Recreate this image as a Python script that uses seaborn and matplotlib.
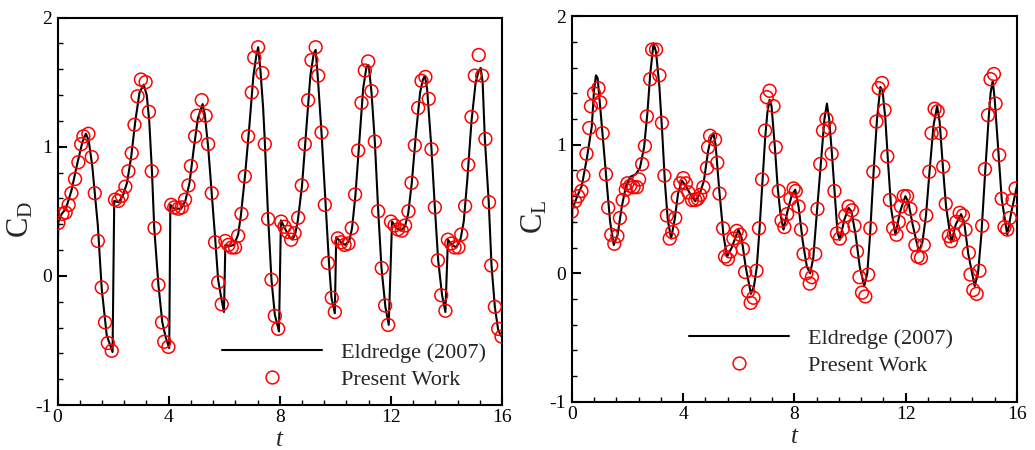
import matplotlib
matplotlib.use("Agg")
import matplotlib.pyplot as plt
from matplotlib.lines import Line2D
from matplotlib.ticker import MultipleLocator
import seaborn as sns

# Eldredge (2007) reference curves
cd_ref_t = [0.00, 0.03, 0.15, 0.30, 0.50, 0.70, 0.90, 1.02, 1.12, 1.25, 1.35, 1.45, 1.59, 1.77, 1.98,
            2.04, 2.20, 2.35, 2.50, 2.65, 2.80, 2.95, 3.10, 3.21, 3.30, 3.40, 3.48, 3.63, 3.77, 3.90, 4.02,
            4.06, 4.20, 4.45, 4.60, 4.75, 4.90, 5.05, 5.22, 5.30, 5.42, 5.55, 5.67, 5.78, 5.90, 5.99,
            6.04, 6.20, 6.35, 6.50, 6.60, 6.75, 6.90, 7.05, 7.15, 7.22, 7.30, 7.40, 7.46, 7.58, 7.70, 7.82, 7.97,
            8.04, 8.20, 8.35, 8.45, 8.55, 8.65, 8.80, 8.95, 9.10, 9.22, 9.29, 9.38, 9.50, 9.65, 9.77, 9.86, 9.98,
            10.03, 10.20, 10.35, 10.50, 10.60, 10.72, 10.85, 11.00, 11.12, 11.20, 11.30, 11.42, 11.54, 11.66, 11.80, 11.92,
            12.04, 12.20, 12.35, 12.50, 12.62, 12.75, 12.90, 13.05, 13.15, 13.22, 13.30, 13.46, 13.58, 13.70, 13.84, 13.96,
            14.05, 14.20, 14.35, 14.50, 14.62, 14.75, 14.90, 15.05, 15.15, 15.23, 15.30, 15.38, 15.52, 15.62, 15.74, 15.86, 15.98]
cd_ref = [0.13, 0.42, 0.48, 0.52, 0.66, 0.86, 1.04, 1.10, 1.05, 0.85, 0.62, 0.39, -0.10, -0.46, -0.59,
          0.58, 0.57, 0.62, 0.72, 0.92, 1.20, 1.42, 1.48, 1.40, 1.20, 0.80, 0.37, -0.07, -0.36, -0.48, -0.56,
          0.55, 0.52, 0.52, 0.58, 0.72, 0.98, 1.22, 1.33, 1.25, 1.00, 0.64, 0.30, -0.03, -0.18, -0.28,
          0.24, 0.23, 0.24, 0.32, 0.47, 0.78, 1.15, 1.55, 1.70, 1.77, 1.60, 1.30, 1.04, 0.45, -0.03, -0.30, -0.43,
          0.43, 0.36, 0.30, 0.28, 0.32, 0.43, 0.70, 1.12, 1.55, 1.72, 1.75, 1.50, 1.11, 0.55, 0.10, -0.17, -0.29,
          0.30, 0.26, 0.24, 0.27, 0.37, 0.62, 1.00, 1.45, 1.62, 1.63, 1.42, 1.04, 0.51, 0.06, -0.24, -0.38,
          0.42, 0.37, 0.35, 0.38, 0.48, 0.72, 1.10, 1.42, 1.52, 1.55, 1.45, 0.98, 0.53, 0.12, -0.15, -0.28,
          0.28, 0.24, 0.22, 0.28, 0.42, 0.75, 1.20, 1.50, 1.58, 1.61, 1.50, 1.06, 0.57, 0.08, -0.24, -0.42, -0.47]

cl_ref_t = [0.00, 0.02, 0.20, 0.36, 0.54, 0.72, 0.80, 0.87, 0.93, 1.02, 1.12, 1.25, 1.38, 1.51,
            1.65, 1.80, 1.95, 2.10, 2.30, 2.45, 2.60, 2.72, 2.82, 2.94, 3.03, 3.15, 3.25, 3.35, 3.45, 3.57,
            3.70, 3.82, 3.96, 4.10, 4.25, 4.44, 4.60, 4.75, 4.90, 5.00, 5.09, 5.17, 5.30, 5.45, 5.58,
            5.75, 5.99, 6.10, 6.25, 6.44, 6.55, 6.65, 6.75, 6.85, 6.95, 7.03, 7.11, 7.18, 7.30, 7.40, 7.50, 7.61,
            7.75, 7.91, 8.03, 8.15, 8.30, 8.45, 8.57, 8.68, 8.80, 8.95, 9.08, 9.17, 9.25, 9.35, 9.45, 9.55, 9.63,
            9.80, 9.95, 10.05, 10.20, 10.35, 10.51, 10.62, 10.72, 10.85, 10.97, 11.09, 11.17, 11.27, 11.37, 11.48, 11.63,
            11.80, 11.99, 12.10, 12.25, 12.47, 12.60, 12.73, 12.86, 13.00, 13.13, 13.22, 13.33, 13.45, 13.64,
            13.80, 13.99, 14.10, 14.25, 14.48, 14.60, 14.72, 14.86, 14.98, 15.05, 15.13, 15.20, 15.33, 15.45, 15.65,
            15.80, 16.00]
cl_ref = [0.16, 0.50, 0.60, 0.68, 0.89, 1.14, 1.42, 1.54, 1.52, 1.30, 1.05, 0.72, 0.40, 0.22,
          0.30, 0.52, 0.68, 0.75, 0.77, 0.82, 0.98, 1.25, 1.55, 1.79, 1.72, 1.45, 1.10, 0.70, 0.42, 0.27,
          0.42, 0.62, 0.72, 0.68, 0.62, 0.56, 0.62, 0.72, 0.95, 1.05, 1.09, 1.00, 0.65, 0.30, 0.13,
          0.20, 0.34, 0.28, 0.05, -0.16, -0.10, 0.05, 0.35, 0.70, 1.05, 1.25, 1.35, 1.30, 0.98, 0.67, 0.46, 0.34,
          0.48, 0.61, 0.65, 0.52, 0.25, 0.05, 0.00, 0.12, 0.45, 0.85, 1.20, 1.32, 1.20, 0.93, 0.62, 0.32, 0.26,
          0.42, 0.51, 0.48, 0.30, 0.05, -0.10, 0.00, 0.30, 0.80, 1.20, 1.45, 1.42, 1.20, 0.85, 0.50, 0.30,
          0.48, 0.60, 0.55, 0.38, 0.17, 0.24, 0.45, 0.80, 1.15, 1.30, 1.18, 0.85, 0.52, 0.24,
          0.38, 0.46, 0.40, 0.15, -0.10, 0.00, 0.30, 0.80, 1.20, 1.40, 1.50, 1.35, 0.95, 0.58, 0.30,
          0.48, 0.68]

# Present work samples
cd_pts_t = [0.03, 0.17, 0.29, 0.40, 0.50, 0.63, 0.75, 0.85, 0.93, 1.11, 1.23, 1.34, 1.45, 1.59, 1.71, 1.81, 1.95,
            2.07, 2.19, 2.31, 2.44, 2.55, 2.67, 2.77, 2.88, 3.00, 3.17, 3.29, 3.39, 3.49, 3.63, 3.76, 3.84, 3.99,
            4.09, 4.20, 4.35, 4.47, 4.59, 4.71, 4.80, 4.95, 5.03, 5.19, 5.33, 5.42, 5.55, 5.67, 5.78, 5.91,
            6.04, 6.15, 6.27, 6.39, 6.50, 6.62, 6.74, 6.86, 6.99, 7.08, 7.22, 7.37, 7.46, 7.58, 7.70, 7.82, 7.94,
            8.05, 8.17, 8.29, 8.41, 8.53, 8.66, 8.79, 8.90, 9.02, 9.14, 9.29, 9.38, 9.50, 9.62, 9.73, 9.87, 9.98,
            10.09, 10.21, 10.33, 10.47, 10.59, 10.71, 10.82, 10.94, 11.06, 11.18, 11.30, 11.42, 11.54, 11.67, 11.79, 11.90,
            12.00, 12.13, 12.25, 12.39, 12.51, 12.63, 12.74, 12.86, 12.98, 13.10, 13.24, 13.36, 13.46, 13.58, 13.69, 13.81, 13.96,
            14.05, 14.17, 14.29, 14.43, 14.53, 14.67, 14.78, 14.90, 15.02, 15.16, 15.28, 15.40, 15.53, 15.61, 15.74, 15.86, 15.98]
cd_pts = [0.41, 0.48, 0.49, 0.55, 0.64, 0.75, 0.88, 1.02, 1.08, 1.10, 0.92, 0.64, 0.27, -0.09, -0.36, -0.52, -0.58,
          0.59, 0.58, 0.62, 0.69, 0.81, 0.95, 1.17, 1.39, 1.52, 1.50, 1.27, 0.81, 0.37, -0.07, -0.36, -0.51, -0.55,
          0.55, 0.53, 0.52, 0.53, 0.59, 0.70, 0.85, 1.08, 1.24, 1.36, 1.24, 1.02, 0.64, 0.26, -0.05, -0.22,
          0.27, 0.24, 0.22, 0.22, 0.31, 0.48, 0.77, 1.08, 1.42, 1.69, 1.77, 1.57, 1.02, 0.44, -0.03, -0.31, -0.41,
          0.42, 0.38, 0.34, 0.28, 0.33, 0.45, 0.70, 1.02, 1.36, 1.67, 1.77, 1.55, 1.11, 0.55, 0.10, -0.17, -0.28,
          0.29, 0.26, 0.24, 0.25, 0.37, 0.63, 0.97, 1.34, 1.59, 1.66, 1.43, 1.04, 0.50, 0.06, -0.23, -0.38,
          0.42, 0.39, 0.36, 0.35, 0.39, 0.50, 0.72, 1.01, 1.30, 1.51, 1.54, 1.37, 0.98, 0.53, 0.12, -0.15, -0.27,
          0.28, 0.25, 0.22, 0.22, 0.32, 0.54, 0.86, 1.23, 1.55, 1.71, 1.55, 1.06, 0.57, 0.08, -0.24, -0.41, -0.47]

cl_pts_t = [0.00, 0.12, 0.23, 0.35, 0.42, 0.53, 0.63, 0.69, 0.80, 0.96, 1.02, 1.11, 1.23, 1.31, 1.42, 1.53, 1.64,
            1.73, 1.83, 1.94, 2.00, 2.10, 2.22, 2.34, 2.42, 2.53, 2.63, 2.70, 2.82, 2.89, 3.03, 3.15, 3.24, 3.33, 3.42,
            3.52, 3.61, 3.72, 3.81, 3.90, 4.01, 4.10, 4.19, 4.32, 4.44, 4.53, 4.62, 4.73, 4.86, 4.90, 4.97, 5.15, 5.23,
            5.31, 5.44, 5.51, 5.61, 5.70, 5.81, 5.93, 6.05, 6.15, 6.23, 6.34, 6.43, 6.53, 6.64, 6.73, 6.84, 6.95, 7.01,
            7.11, 7.25, 7.33, 7.44, 7.54, 7.64, 7.74, 7.86, 7.97, 8.05, 8.15, 8.24, 8.33, 8.43, 8.55, 8.63, 8.75, 8.83,
            8.93, 9.03, 9.15, 9.26, 9.34, 9.44, 9.53, 9.63, 9.75, 9.83, 9.95, 10.07, 10.16, 10.25, 10.34, 10.43, 10.55,
            10.65, 10.73, 10.84, 10.95, 11.03, 11.15, 11.24, 11.34, 11.43, 11.55, 11.67, 11.75, 11.83, 11.93, 12.05,
            12.17, 12.27, 12.35, 12.43, 12.55, 12.65, 12.74, 12.85, 12.93, 13.04, 13.15, 13.25, 13.35, 13.44, 13.55,
            13.63, 13.73, 13.82, 13.94, 14.06, 14.15, 14.27, 14.33, 14.43, 14.55, 14.65, 14.75, 14.85, 14.96, 15.05,
            15.17, 15.23, 15.36, 15.45, 15.55, 15.65, 15.74, 15.84, 15.95]
cl_pts = [0.48, 0.56, 0.60, 0.64, 0.76, 0.93, 1.13, 1.30, 1.40, 1.44, 1.33, 1.09, 0.77, 0.51, 0.30, 0.23, 0.29,
          0.43, 0.57, 0.65, 0.70, 0.68, 0.67, 0.67, 0.73, 0.85, 0.99, 1.22, 1.51, 1.74, 1.74, 1.54, 1.17, 0.76, 0.45,
          0.27, 0.32, 0.43, 0.59, 0.70, 0.74, 0.70, 0.63, 0.57, 0.57, 0.58, 0.61, 0.67, 0.82, 0.98, 1.07, 1.04, 0.86,
          0.62, 0.35, 0.13, 0.11, 0.17, 0.27, 0.33, 0.30, 0.19, 0.01, -0.14, -0.23, -0.19, 0.02, 0.35, 0.73, 1.11, 1.37,
          1.42, 1.30, 0.98, 0.64, 0.41, 0.36, 0.46, 0.58, 0.66, 0.64, 0.52, 0.34, 0.15, 0.00, -0.08, -0.03, 0.15, 0.50,
          0.85, 1.11, 1.20, 1.13, 0.93, 0.64, 0.31, 0.27, 0.35, 0.45, 0.52, 0.49, 0.37, 0.17, -0.03, -0.15, -0.18,
          -0.01, 0.35, 0.79, 1.18, 1.44, 1.48, 1.27, 0.91, 0.57, 0.35, 0.30, 0.40, 0.52, 0.60, 0.60,
          0.50, 0.36, 0.22, 0.13, 0.12, 0.22, 0.45, 0.79, 1.09, 1.28, 1.26, 1.09, 0.83, 0.54, 0.29,
          0.25, 0.30, 0.40, 0.47, 0.45, 0.34, 0.16, -0.01, -0.13, -0.16, 0.02, 0.37, 0.81, 1.23, 1.51,
          1.55, 1.32, 0.92, 0.58, 0.36, 0.34, 0.43, 0.57, 0.66]

panels = [
    ("C$_\\mathrm{D}$", cd_ref_t, cd_ref, cd_pts_t, cd_pts, [0.0556, 0.100, 0.4295, 0.861], (0.37, 0.162)),
    ("C$_\\mathrm{L}$", cl_ref_t, cl_ref, cl_pts_t, cl_pts, [0.5524, 0.107, 0.4302, 0.857], (0.263, 0.191)),
]

sns.set_theme(style="ticks")
plt.rcParams["font.family"] = ["Liberation Serif", "DejaVu Serif"]
plt.rcParams["mathtext.fontset"] = "custom"
plt.rcParams["mathtext.rm"] = "Liberation Serif"
plt.rcParams["mathtext.it"] = "Liberation Serif:italic"
plt.rcParams["axes.unicode_minus"] = False

fig = plt.figure(figsize=(10.35, 4.5), dpi=100)

for ylab, rt, rv, pt, pv, rect, leg_xy in panels:
    ax = fig.add_axes(rect)
    sns.lineplot(x=rt, y=rv, sort=False, estimator=None, color="black", linewidth=1.5, ax=ax)
    sns.scatterplot(x=pt, y=pv, marker="o", s=85, facecolor="none", edgecolor="red",
                    linewidth=1.1, ax=ax, zorder=3)
    ax.set_xlim(0, 16)
    ax.set_ylim(-1, 2)
    ax.set_xticks([0, 4, 8, 12, 16])
    ax.set_yticks([-1, 0, 1, 2])
    ax.xaxis.set_minor_locator(MultipleLocator(0.8))
    ax.yaxis.set_minor_locator(MultipleLocator(0.2))
    ax.tick_params(which="both", direction="in", top=False, right=False, labelsize=14, colors="black")
    ax.tick_params(axis="y", which="major", length=6.5, width=1.5, pad=4)
    ax.tick_params(axis="x", which="major", length=6.5, width=1.5, pad=3)
    ax.tick_params(which="minor", length=3.5, width=1.0)
    for sp in ax.spines.values():
        sp.set_linewidth(1.5)
        sp.set_color("black")
    ax.set_xlabel("$\\mathit{t}$", fontsize=18)
    ax.xaxis.set_label_coords(0.5, -0.062)
    ax.set_ylabel(ylab, fontsize=22)
    ax.yaxis.set_label_coords(-0.05, 0.48)

    handles = [Line2D([], [], color="black", linewidth=1.5),
               Line2D([], [], linestyle="none", marker="o", markersize=9.2, markerfacecolor="none",
                      markeredgecolor="red", markeredgewidth=1.1)]
    ax.legend(handles, ["Eldredge (2007)", "Present Work"], loc="upper left", bbox_to_anchor=leg_xy,
              frameon=False, fontsize=16, handlelength=4.5, handletextpad=0.85, labelspacing=0.28,
              borderpad=0, borderaxespad=0)

fig.savefig("out.png", dpi=100)
plt.close(fig)
